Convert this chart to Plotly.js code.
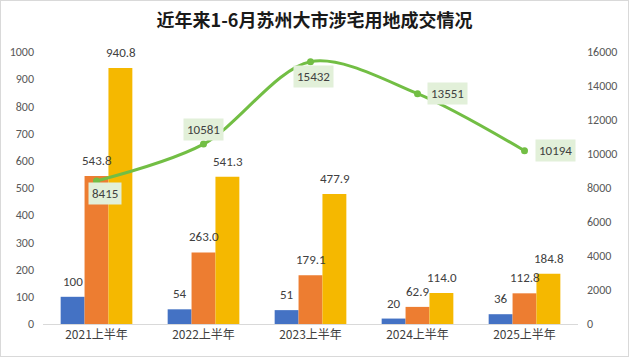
<!DOCTYPE html>
<html>
<head>
<meta charset="utf-8">
<script src="https://cdn.plot.ly/plotly-3.0.1.min.js"></script>
<style>
html,body{margin:0;padding:0;background:#fff;}
#chart{width:627px;height:355px;border:1px solid #d9d9d9;}
</style>
</head>
<body>
<div id="chart"></div>
<script>
const categories = ['2021上半年','2022上半年','2023上半年','2024上半年','2025上半年'];
const seriesA = [100, 54, 51, 20, 36];
const seriesB = [543.8, 263.0, 179.1, 62.9, 112.8];
const seriesC = [940.8, 541.3, 477.9, 114.0, 184.8];
const lineVals = [8415, 10581, 15432, 13551, 10194];
const labelsA = ['100','54','51','20','36'];
const labelsB = ['543.8','263.0','179.1','62.9','112.8'];
const labelsC = ['940.8','541.3','477.9','114.0','184.8'];

const colors = ['#4472C4','#ED7D31','#F5B800'];
const lineColor = '#72BE44';
const fontFam = 'Calibri, "Liberation Sans", "Noto Sans CJK SC", sans-serif';

const bars = [seriesA, seriesB, seriesC].map((v,i)=>({
  type:'bar', x:categories, y:v, marker:{color:colors[i]}, yaxis:'y', hoverinfo:'skip'
}));
const line = {
  type:'scatter', mode:'lines+markers', x:categories, y:lineVals, yaxis:'y2',
  line:{color:lineColor, width:3, shape:'spline', smoothing:0.9},
  marker:{color:lineColor, size:7}
};

const annotations = [];
const barLabels = [labelsA, labelsB, labelsC];
const barVals = [seriesA, seriesB, seriesC];
const barPx = 24;
for (let s=0;s<3;s++){
  for (let i=0;i<categories.length;i++){
    annotations.push({x:categories[i], y:barVals[s][i], xref:'x', yref:'y',
      text:barLabels[s][i], showarrow:false, yanchor:'bottom', yshift:6,
      xshift:(s-1)*barPx, font:{size:13, color:'#404040', family:fontFam}});
  }
}
const lineOffsets = [[8,-13],[0,15],[3,-15],[30,0],[31,0]];
for (let i=0;i<categories.length;i++){
  annotations.push({x:categories[i], y:lineVals[i], xref:'x', yref:'y2',
    text:String(lineVals[i]), showarrow:false, bgcolor:'#E2F0D9', borderpad:3,
    xshift:lineOffsets[i][0], yshift:lineOffsets[i][1],
    font:{size:13, color:'#404040', family:fontFam}});
}

const layout = {
  width:627, height:355,
  margin:{l:42, r:50, t:51, b:32},
  paper_bgcolor:'#fff', plot_bgcolor:'#fff',
  showlegend:false,
  bargap:0.33, bargroupgap:0,
  title:{text:'<b>近年来1-6月苏州大市涉宅用地成交情况</b>', x:0.5, xanchor:'center', y:1-20/355, yanchor:'middle', yref:'container',
    font:{size:18, color:'#1a1a1a', family:'"Noto Sans CJK SC", sans-serif'}},
  xaxis:{type:'category', showgrid:false, showline:true, linecolor:'#d9d9d9', linewidth:1, ticks:'',
    tickfont:{size:12, color:'#404040', family:'"Noto Sans CJK SC", sans-serif'}},
  yaxis:{range:[0,1000], dtick:100, showgrid:false, zeroline:false, showline:false, ticks:'',
    tickfont:{size:12, color:'#595959', family:fontFam}, ticklabelstandoff:8},
  yaxis2:{range:[0,16000], dtick:2000, tickformat:'d', overlaying:'y', side:'right', showgrid:false, zeroline:false, showline:false, ticks:'',
    tickfont:{size:12, color:'#595959', family:fontFam}, ticklabelstandoff:8},
  annotations:annotations
};
Plotly.newPlot('chart', [...bars, line], layout, {displayModeBar:false, staticPlot:true});
</script>
</body>
</html>
